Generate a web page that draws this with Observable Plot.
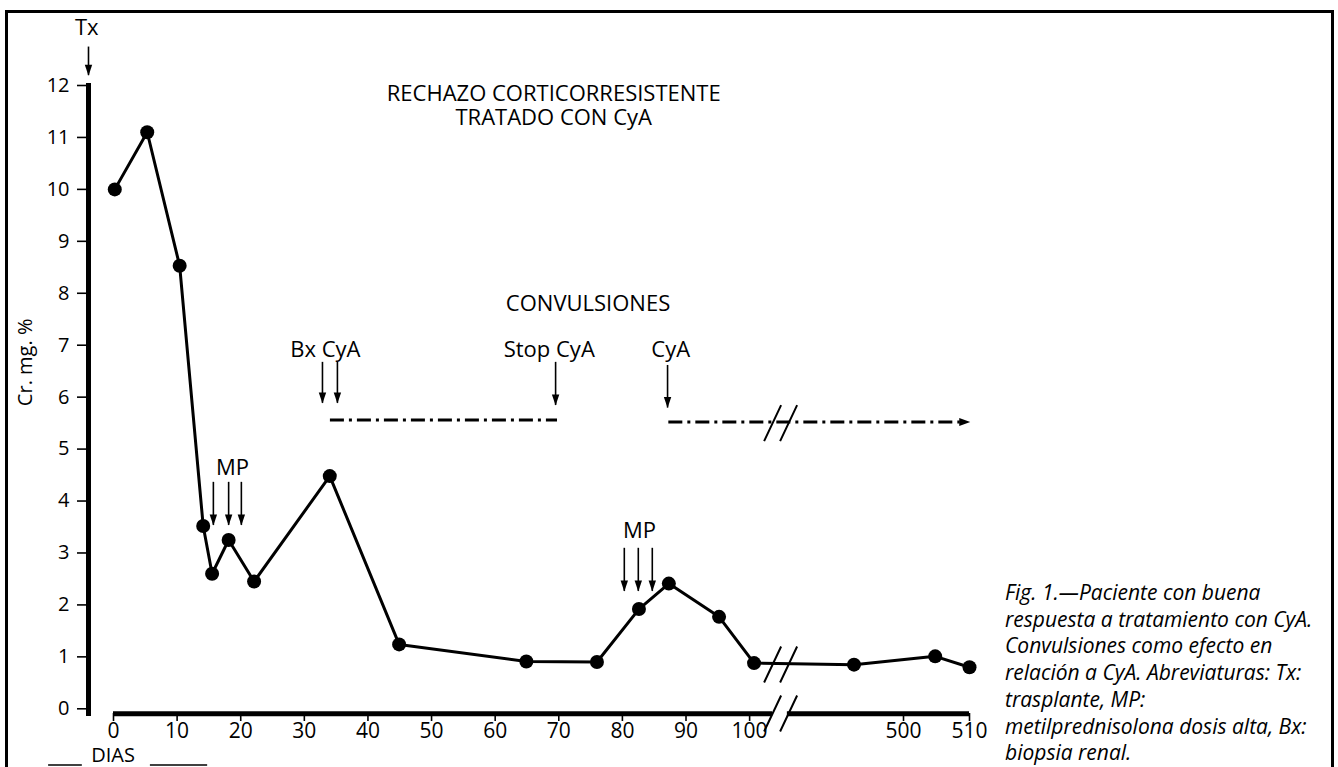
<!DOCTYPE html>
<html><head><meta charset="utf-8">
<script src="https://cdn.jsdelivr.net/npm/d3@7"></script>
<script src="https://cdn.jsdelivr.net/npm/@observablehq/plot@0.6"></script>
<style>
html,body{margin:0;padding:0;background:#fff;}
#wrap{position:relative;width:1338px;height:767px;overflow:hidden;font-family:"Open Sans",sans-serif;color:#000;}
#chart{position:absolute;left:0;top:0;}
#border{position:absolute;left:5px;top:10px;width:1329px;height:820px;border:3px solid #000;box-sizing:border-box;pointer-events:none;}
#caption{position:absolute;left:1005px;top:579px;font-style:italic;font-size:21px;line-height:26.7px;white-space:nowrap;}
</style></head><body>
<div id="wrap"><div id="chart"></div><div id="border"></div>
<div id="caption">Fig. 1.—Paciente con buena<br>respuesta a tratamiento con CyA.<br>Convulsiones como efecto en<br>relación a CyA. Abreviaturas: Tx:<br>trasplante, MP:<br>metilprednisolona dosis alta, Bx:<br>biopsia renal.</div>
</div>
<script>
// --- data (days after transplant, serum creatinine mg %) ---
const days = [0.2, 5.3, 10.4, 14.1, 15.5, 18.1, 22.1, 34.0, 44.9, 64.9, 76.0, 82.6, 87.3, 95.2, 100.7, 492.5, 504.8, 510];
const creatinine = [10.0, 11.1, 8.53, 3.52, 2.6, 3.25, 2.45, 4.48, 1.24, 0.91, 0.9, 1.92, 2.41, 1.77, 0.88, 0.85, 1.01, 0.8];
const xTicks = [0, 10, 20, 30, 40, 50, 60, 70, 80, 90, 100, 500, 510];
const yTicks = [0, 1, 2, 3, 4, 5, 6, 7, 8, 9, 10, 11, 12];

// broken day axis: 0–105 then 481.5–510 (slightly wider spacing after the break)
const breakFrom = 105;
const breakTo = 481.5;
const afterStretch = 1.0374;
const dayDomain = [0, 510];
const axisSegStart = [0, 482.4];
const axisSegEnd = [103.6, 510];

// CyA treatment periods (dash-dot)
const cyaStart = [34.1, 87.3];
const cyaEnd = [69.8, 508.6];
const cyaLevel = [5.56, 5.52];

// event arrows
const arrowDays = [-3.93, 32.85, 35.2, 69.5, 87.1, 15.7, 18.1, 20.1, 80.3, 82.5, 84.7];
const arrowTop = [12.74, 6.67, 6.67, 6.67, 6.61, 4.36, 4.36, 4.36, 3.09, 3.09, 3.09];
const arrowTip = [12.19, 5.88, 5.88, 5.84, 5.79, 3.53, 3.53, 3.53, 2.26, 2.26, 2.26];

// annotation labels
const labelText = ["Tx", "Bx CyA", "Stop CyA", "CyA", "MP", "MP", "CONVULSIONES", "RECHAZO CORTICORRESISTENTE\nTRATADO CON CyA"];
const labelDay = [-4.2, 33.3, 68.5, 87.6, 18.7, 82.7, 74.6, 69.2];
const labelY = [12.97, 6.77, 6.77, 6.77, 4.50, 3.28, 7.65, 11.24];

const yLabel = "Cr. mg. %";
const xLabel = "DIAS";

// --- build ---
const brk = d => d <= breakFrom ? d : breakFrom + (d - breakTo) * afterStretch;
const series = days.map((d, i) => ({day: d, cr: creatinine[i]}));
const axisSegs = axisSegStart.map((s, i) => ({x1: s, x2: axisSegEnd[i]}));
const cya = cyaStart.map((s, i) => ({x1: s, x2: cyaEnd[i], y: cyaLevel[i]}));
const arrows = arrowDays.map((d, i) => ({x: d, y1: arrowTop[i], y2: arrowTip[i]}));
const labels = labelText.map((t, i) => ({text: t, x: labelDay[i], y: labelY[i]}));
const breaks = [{x: 104.95, y: -0.09}, {x: 104.95, y: 0.853}, {x: 104.95, y: 5.5}];

const downHead = {draw(ctx) { ctx.moveTo(0, 0); ctx.lineTo(-3.7, -11); ctx.lineTo(3.7, -11); ctx.closePath(); }};
const rightHead = {draw(ctx) { ctx.moveTo(0, 0); ctx.lineTo(-11, -4); ctx.lineTo(-11, 4); ctx.closePath(); }};
const breakMark = {draw(ctx) { ctx.moveTo(-17, 18); ctx.lineTo(0, -18); ctx.moveTo(-1, 18); ctx.lineTo(16, -18); }};

const chart = Plot.plot({
  width: 1338,
  height: 767,
  marginLeft: 88,
  marginTop: 85,
  marginBottom: 54,
  marginRight: 369,
  x: {transform: brk, domain: dayDomain.map(brk), range: [113, 969], axis: null},
  y: {domain: [0, 12], range: [708.3, 85]},
  style: {fontFamily: "'Open Sans', sans-serif", fontSize: "20px", color: "#000", background: "transparent"},
  marks: [
    Plot.frame({anchor: "left", strokeWidth: 5, stroke: "#000"}),
    Plot.axisY({ticks: yTicks, tickSize: 11, tickPadding: 8, label: null, fontSize: 20, strokeWidth: 1.6}),
    // broken x axis: bar, ticks, labels
    Plot.ruleY(axisSegs, {x1: "x1", x2: "x2", y: () => 0, dy: 5, strokeWidth: 5, stroke: "#000"}),
    Plot.ruleX(xTicks, {x: d => d, y1: () => -0.09, y2: () => -0.245, strokeWidth: 1.6, stroke: "#000"}),
    Plot.text(xTicks, {x: d => d, y: () => -0.28, text: d => String(d), lineAnchor: "top", fontSize: 21, fill: "#000"}),
    Plot.ruleY(cya, {x1: "x1", x2: "x2", y: "y", strokeWidth: 3, stroke: "#000", strokeDasharray: "14,5,3,5"}),
    Plot.dot([cya[1]], {x: "x2", y: "y", dx: 10, symbol: rightHead, r: 5, fill: "#000", stroke: "none"}),
    Plot.line(series, {x: "day", y: "cr", stroke: "#000", strokeWidth: 3}),
    Plot.dot(series, {x: "day", y: "cr", r: 7, fill: "#000", stroke: "none"}),
    Plot.dot(breaks, {x: "x", y: "y", symbol: breakMark, r: 10, fill: "none", stroke: "#000", strokeWidth: 2}),
    Plot.ruleX(arrows, {x: "x", y1: "y1", y2: "y2", strokeWidth: 1.6, stroke: "#000"}),
    Plot.dot(arrows, {x: "x", y: "y2", symbol: downHead, r: 5, fill: "#000", stroke: "none"}),
    Plot.text(labels, {x: "x", y: "y", text: "text", lineAnchor: "bottom", textAnchor: "middle", lineHeight: 1.1, fontSize: 22, fill: "#000"}),
    Plot.text([yLabel], {x: () => -13.8, y: () => 6.67, text: d => d, rotate: -90, fontSize: 20, fill: "#000"}),
    Plot.text([xLabel], {x: () => -0.08, y: () => -1.03, text: d => d, lineAnchor: "bottom", fontSize: 20, fill: "#000"}),
    Plot.ruleY([{x1: -10.2, x2: -4.9}, {x1: 5.8, x2: 14.8}], {x1: "x1", x2: "x2", y: () => -1.08, strokeWidth: 1.5, stroke: "#000"})
  ]
});
document.getElementById("chart").appendChild(chart);
</script>
</body></html>
